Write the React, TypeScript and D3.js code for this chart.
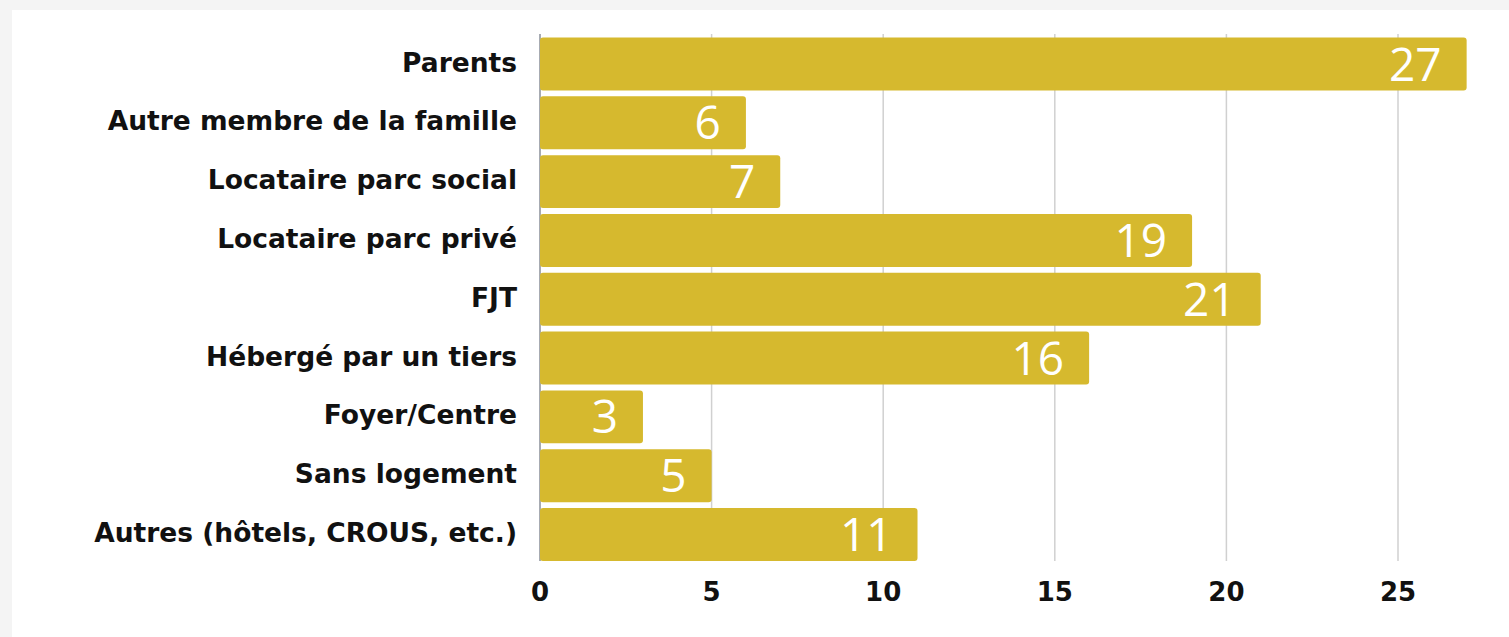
import React from "react";
import * as d3 from "d3";

const categories = [
  "Parents",
  "Autre membre de la famille",
  "Locataire parc social",
  "Locataire parc privé",
  "FJT",
  "Hébergé par un tiers",
  "Foyer/Centre",
  "Sans logement",
  "Autres (hôtels, CROUS, etc.)",
];
const values = [27, 6, 7, 19, 21, 16, 3, 5, 11];
const ticks = [0, 5, 10, 15, 20, 25];

const W = 1509;
const H = 637;

export default function App() {
  const x = d3.scaleLinear().domain([0, 25]).range([540, 1398]);
  const y = d3
    .scaleBand<string>()
    .domain(categories)
    .range([34.6, 563.9])
    .paddingInner(0.1)
    .paddingOuter(0.05);
  const barColor = "#D6B92E";
  return (
    <svg
      width={W}
      height={H}
      style={{ position: "absolute", left: 0, top: 0, display: "block" }}
    >
      <rect x={0} y={0} width={W} height={H} fill="#f4f4f4" />
      <rect x={12} y={10} width={W - 12} height={H - 10} fill="#ffffff" />
      {ticks.map((t) => (
        <line
          key={"g" + t}
          x1={x(t)}
          x2={x(t)}
          y1={34}
          y2={561}
          stroke={t === 0 ? "#8a8f99" : "#d0d0d0"}
          strokeWidth={1.5}
        />
      ))}
      {categories.map((c, i) => (
        <g key={c}>
          <rect
            x={x(0)}
            y={y(c)}
            width={x(values[i]) - x(0)}
            height={y.bandwidth()}
            rx={3}
            fill={barColor}
          />
          <text
            x={x(values[i]) - 25}
            y={(y(c) as number) + y.bandwidth() / 2}
            dy="0.36em"
            textAnchor="end"
            fill="#ffffff"
            fontFamily="'Open Sans', sans-serif"
            fontSize={46}
            fontWeight={500}
          >
            {values[i]}
          </text>
          <text
            x={517}
            y={(y(c) as number) + y.bandwidth() / 2 - 2}
            dy="0.36em"
            textAnchor="end"
            fill="#111111"
            fontFamily="'DejaVu Sans', sans-serif"
            fontSize={26.5}
            fontWeight={700}
          >
            {c}
          </text>
        </g>
      ))}
      {ticks.map((t) => (
        <text
          key={"t" + t}
          x={x(t)}
          y={592}
          dy="0.36em"
          textAnchor="middle"
          fill="#111111"
          fontFamily="'DejaVu Sans', sans-serif"
          fontSize={26}
          fontWeight={700}
        >
          {t}
        </text>
      ))}
    </svg>
  );
}
